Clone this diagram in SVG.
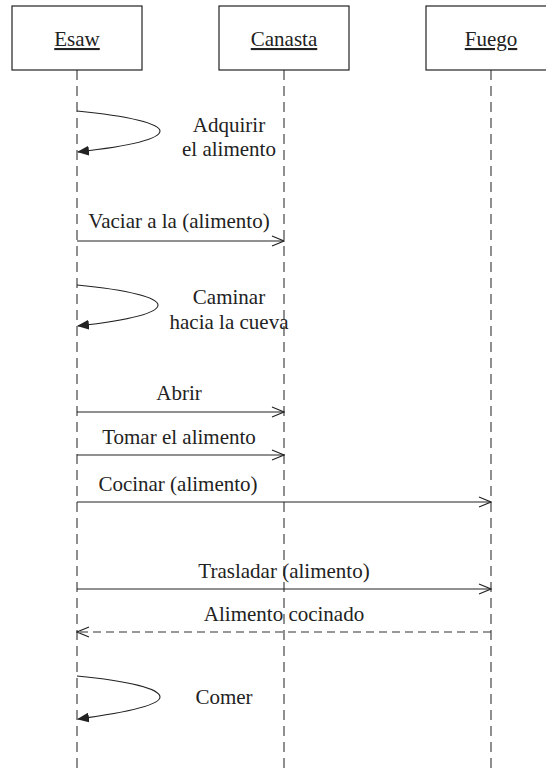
<svg xmlns="http://www.w3.org/2000/svg" width="546" height="773" viewBox="0 0 546 773">
<defs>
<style>
.box{fill:#fff;stroke:#222;stroke-width:1.2}
.t{font-family:'Liberation Serif','Times New Roman',Times,serif;font-size:21px;fill:#222;text-anchor:middle}
.life{stroke:#333;stroke-width:1.1;stroke-dasharray:10,6;fill:none}
.msg{stroke:#222;stroke-width:1.1;fill:none}
.dash{stroke:#333;stroke-width:1.1;fill:none;stroke-dasharray:8,5}
</style>
<marker id="open" viewBox="0 0 14 12" refX="13" refY="6" markerWidth="14" markerHeight="12" markerUnits="userSpaceOnUse" orient="auto">
<path d="M1,1 L13,6 L1,11" fill="none" stroke="#222" stroke-width="1.1"/>
</marker>
<marker id="filled" viewBox="0 0 12 10" refX="11" refY="5" markerWidth="12" markerHeight="10" markerUnits="userSpaceOnUse" orient="auto">
<path d="M0,0 L12,5 L0,10 Z" fill="#222"/>
</marker>
</defs>
<rect width="546" height="773" fill="#fff"/>
<g id="lifelines">
<line class="life" x1="77" y1="70" x2="77" y2="773"/>
<line class="life" x1="284" y1="70" x2="284" y2="773"/>
<line class="life" x1="491" y1="70" x2="491" y2="773"/>
</g>
<g id="esaw">
<rect class="box" x="12" y="6" width="130" height="64"/>
<text class="t" x="77" y="46" text-decoration="underline">Esaw</text>
</g>
<g id="canasta">
<rect class="box" x="219" y="6" width="130" height="64"/>
<text class="t" x="284" y="46" text-decoration="underline">Canasta</text>
</g>
<g id="fuego">
<rect class="box" x="426" y="6" width="130" height="64"/>
<text class="t" x="491" y="46" text-decoration="underline">Fuego</text>
</g>
<g id="connectors">
<path class="msg" d="M77,111 C130,116 160,124 160,131 C160,139 130,146 78,152" marker-end="url(#filled)"/>
<line class="msg" x1="77" y1="241" x2="284" y2="241" marker-end="url(#open)"/>
<path class="msg" d="M77,285 C130,290 158,298 158,305 C158,313 130,320 78,326" marker-end="url(#filled)"/>
<line class="msg" x1="77" y1="412" x2="284" y2="412" marker-end="url(#open)"/>
<line class="msg" x1="77" y1="455" x2="284" y2="455" marker-end="url(#open)"/>
<line class="msg" x1="77" y1="502" x2="491" y2="502" marker-end="url(#open)"/>
<line class="msg" x1="77" y1="589" x2="491" y2="589" marker-end="url(#open)"/>
<line class="dash" x1="491" y1="632" x2="77" y2="632" marker-end="url(#open)"/>
<path class="msg" d="M77,676 C130,681 160,689 160,697 C160,705 130,712 78,719" marker-end="url(#filled)"/>
</g>
<g id="labels">
<text class="t" x="229" y="132">Adquirir</text>
<text class="t" x="229" y="156">el alimento</text>
<text class="t" x="179" y="228">Vaciar a la (alimento)</text>
<text class="t" x="229" y="304">Caminar</text>
<text class="t" x="229" y="329">hacia la cueva</text>
<text class="t" x="179" y="400">Abrir</text>
<text class="t" x="179" y="444">Tomar el alimento</text>
<text class="t" x="178" y="491">Cocinar (alimento)</text>
<text class="t" x="284" y="578">Trasladar (alimento)</text>
<text class="t" x="284" y="621">Alimento cocinado</text>
<text class="t" x="224" y="704">Comer</text>
</g>
</svg>
